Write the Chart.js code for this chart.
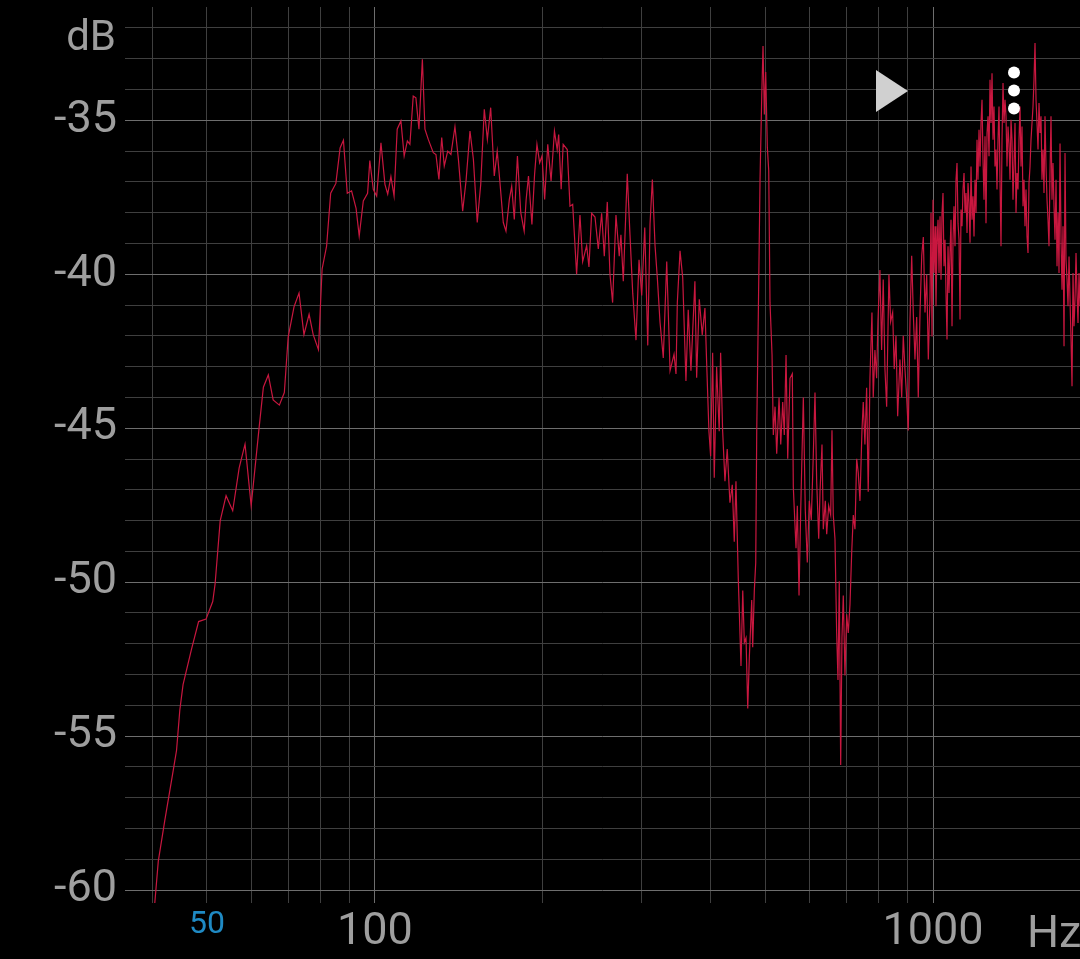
<!DOCTYPE html>
<html>
<head>
<meta charset="utf-8">
<script src="https://cdn.jsdelivr.net/npm/chart.js@4/dist/chart.umd.min.js"></script>
<style>
  html, body { margin: 0; padding: 0; background: #000; }
  #wrap { width: 1080px; height: 959px; position: relative; }
</style>
</head>
<body>
<div id="wrap"><canvas id="spectrum"></canvas></div>
<script>
// spectrum: frequency (Hz) and level (dB)
const freqHz = [
  40.3, 40.9, 42.0, 43.5, 44.1, 44.7, 45.3, 46.9, 48.3, 49.8,
  51.2, 51.7, 52.8, 54.1, 55.6, 57.1, 58.5, 60.0, 62.0, 63.1,
  64.4, 65.7, 67.4, 68.8, 69.9, 71.6, 73.1, 74.6, 76.2, 77.5,
  79.2, 80.4, 81.9, 83.3, 85.1, 86.6, 87.8, 89.2, 90.8, 92.5,
  93.7, 95.3, 97.0, 97.9,
  99.3, 100.7, 102.5, 104.2, 105.4, 106.8, 108.2, 109.6, 111.3, 112.8,
  114.3, 115.5, 117.1, 118.4, 119.9, 121.6, 122.9, 124.6, 127.2, 128.6,
  130.2, 131.7, 133.1, 135.0, 136.8, 139.1, 141.1, 143.6, 145.6, 148.0,
  150.1, 152.5, 154.7, 157.0, 159.0, 161.2, 163.6, 165.6, 167.5, 169.8,
  171.7, 174.1, 175.8, 177.7, 180.0, 182.5, 185.1, 186.6, 188.4, 191.1,
  193.2, 195.1, 197.3, 199.2, 201.4, 204.0, 206.8, 209.7, 212.1, 213.4,
  215.6, 217.4, 221.1,
  223.6, 226.1, 229.8, 233.0, 235.6, 239.5, 241.8, 244.5, 247.9, 251.3,
  254.8, 257.6, 260.8, 263.7, 266.6, 270.3, 274.0, 275.9, 278.6, 283.2,
  286.4, 289.7, 293.6, 297.3, 300.6, 304.4, 308.2, 311.1, 314.1, 317.6,
  320.6, 324.2, 328.6, 333.3, 337.9, 343.5, 346.3, 348.2, 352.1, 356.0,
  360.8, 364.2, 368.3, 374.4, 377.1, 381.2, 385.9, 390.2, 393.0, 396.7,
  399.5, 402.8, 405.5, 409.5, 413.9, 416.3, 419.8, 423.8, 427.8, 432.6,
  436.8, 440.4, 443.5, 447.7,
  452.8, 456.1, 459.1, 462.3, 465.6, 468.7, 473.3, 475.2, 478.4, 481.2,
  483.2, 486.4, 489.8, 493.3, 495.9, 498.6, 501.4, 504.8, 507.7, 510.4,
  514.7, 517.4, 521.1, 524.7, 529.8, 533.5, 537.9, 541.4, 545.3, 549.1,
  554.3, 559.6, 561.9, 568.2, 571.3, 575.3, 579.3, 585.6, 590.4, 595.3,
  600.2, 605.2, 610.3, 614.5, 618.8, 624.0, 627.4, 632.5, 635.9, 641.2,
  644.9, 650.2, 655.6, 659.1, 662.6, 667.3, 672.0, 675.6, 679.2, 683.2,
  686.8, 690.6, 695.4, 700.3, 704.9, 709.9, 714.9, 719.7, 724.7, 729.8,
  734.6, 739.8, 745.9, 749.9, 755.1, 760.4, 765.4, 770.9, 777.3, 781.4,
  786.9, 792.4, 796.7, 803.3, 808.9, 814.3, 820.1, 825.9, 833.7, 839.6,
  846.6, 852.1, 858.3, 864.3, 872.5, 878.8, 884.5, 890.7, 897.0, 903.0,
  909.3, 915.8, 921.8, 928.3, 934.8, 941.0, 947.8, 954.5, 960.8, 967.5,
  974.3, 980.8,
  987.7, 991.8, 995.9, 1000.0, 1004.1, 1008.3, 1012.4, 1016.6, 1020.9, 1025.1,
  1029.3, 1033.6, 1037.9, 1042.1, 1046.4, 1050.8, 1055.1, 1059.5, 1063.9, 1068.3,
  1072.7, 1077.1, 1081.6, 1086.0, 1090.5, 1095.0, 1099.6, 1104.1, 1108.7, 1113.3,
  1117.9, 1122.5, 1127.2, 1131.8, 1136.5, 1141.2, 1145.9, 1150.7, 1155.4, 1160.2,
  1165.0, 1169.8, 1174.7, 1179.4, 1184.3, 1189.2, 1194.1, 1199.1, 1204.0, 1209.0,
  1214.0, 1219.0, 1224.1, 1229.1, 1234.2, 1239.3, 1244.4, 1249.6, 1254.8, 1260.0,
  1265.2, 1270.4, 1275.7, 1280.9, 1286.2, 1291.5, 1296.9, 1302.2, 1307.6, 1313.0,
  1318.4, 1323.9, 1329.4, 1334.9, 1340.4, 1345.9, 1351.5, 1357.1, 1362.7, 1368.3,
  1374.0, 1379.7, 1385.4, 1391.1, 1396.9, 1402.6, 1408.4, 1414.2, 1420.1, 1426.0,
  1431.9, 1437.8, 1443.7, 1449.7, 1455.7, 1461.7, 1467.7, 1473.8, 1479.9, 1486.0,
  1492.2, 1498.3, 1504.5, 1510.8, 1517.0, 1523.3, 1529.6, 1535.9, 1542.3, 1548.6,
  1555.0, 1561.5, 1567.9, 1574.4, 1580.9, 1587.4, 1594.0, 1600.6, 1607.2, 1613.9,
  1620.5, 1627.2, 1634.0, 1640.8, 1647.5, 1654.4, 1661.2, 1668.1, 1675.0, 1681.9,
  1688.9, 1695.9, 1702.9, 1709.9, 1717.0, 1724.1, 1731.2, 1738.4, 1745.5, 1752.8,
  1760.0, 1767.3, 1774.6, 1781.9, 1789.3, 1796.7, 1804.1, 1811.6, 1819.0, 1826.6,
  1834.1
];

const levelDb = [
  -60.45, -59.06, -57.75, -56.11, -55.46, -54.15, -53.33, -52.18, -51.28, -51.2,
  -50.63, -50.06, -48.01, -47.19, -47.68, -46.29, -45.52, -47.52, -44.98, -43.67,
  -43.27, -44.08, -44.25, -43.84, -42.04, -41.06, -40.61, -41.96, -41.3, -41.96,
  -42.45, -39.83, -39.09, -37.37, -37.05, -35.9, -35.65, -37.37, -37.29, -37.86,
  -38.76, -37.62, -37.37, -36.31,
  -37.24, -37.46, -35.73, -37.08, -37.4, -36.83, -37.46, -35.29, -35.02, -36.16,
  -35.67, -35.78, -34.21, -34.27, -35.29, -33.02, -35.29, -35.62, -36.05, -36.11,
  -36.92, -35.56, -36.48, -36.0, -36.11, -35.21, -36.27, -37.95, -36.97, -35.35,
  -36.27, -38.32, -37.08, -34.64, -35.62, -34.59, -36.81, -36.0, -37.03, -38.32,
  -38.6, -37.57, -37.14, -38.22, -36.16, -38.0, -38.6, -37.57, -36.81, -38.38,
  -36.76, -35.78, -36.38, -36.16, -37.57, -35.78, -36.97, -35.35, -35.95, -35.46,
  -37.24, -35.78, -35.95,
  -37.79, -37.73, -40.0, -38.08, -39.59, -39.07, -39.76, -38.02, -38.14, -39.18,
  -38.02, -39.41, -37.65, -40.0, -40.92, -38.08, -39.41, -38.72, -40.23, -36.74,
  -38.72, -40.63, -42.14, -39.53, -40.69, -38.48, -42.31, -38.37, -36.92, -39.07,
  -40.11, -41.56, -42.72, -39.59, -43.13, -42.6, -43.24, -40.92, -39.24, -40.11,
  -43.47, -41.15, -43.13, -40.23, -43.36, -40.81, -41.97, -41.1, -42.89, -45.1,
  -45.91, -42.55, -46.61, -43.01, -45.1, -42.55, -45.1, -46.72, -45.68, -47.42,
  -46.84, -48.69, -46.72, -49.85,
  -52.72, -50.27, -51.96, -51.81, -54.1, -52.42, -50.58, -52.11, -50.27, -49.36,
  -45.07, -41.24, -36.95, -34.19, -32.59, -34.81, -33.43, -35.88, -36.64, -40.93,
  -42.62, -45.22, -44.3, -45.83, -44.0, -45.53, -44.15, -45.22, -42.62, -45.99,
  -43.38, -43.23, -46.91, -48.9, -47.52, -50.43, -47.67, -44.0, -47.67, -49.36,
  -47.36, -47.98, -45.83, -43.84, -46.75, -48.59, -47.06, -45.53, -48.28, -47.36,
  -48.44, -47.52, -47.82, -45.07, -47.82, -48.59, -51.65, -53.18, -49.97, -55.94,
  -51.81, -50.43, -53.03, -51.04, -51.65, -50.73, -49.05, -47.82, -48.28, -45.99,
  -46.45, -47.36, -45.07, -44.15, -45.53, -43.69, -47.06, -43.38, -41.24, -44.0,
  -42.46, -43.38, -41.54, -39.86, -42.46, -40.17, -43.08, -44.3, -40.01, -41.54,
  -41.24, -43.08, -42.0, -44.61, -42.77, -44.0, -42.0, -43.08, -44.0, -45.07,
  -41.54, -39.4, -41.24, -42.77, -41.39, -44.0, -41.24, -39.4, -38.79, -41.24,
  -40.01, -42.77,
  -40.72, -38.01, -42.02, -37.58, -39.96, -38.44, -41.04, -39.09, -38.23, -39.96,
  -38.12, -40.18, -38.01, -37.36, -39.74, -38.88, -40.61, -42.12, -39.09, -40.61,
  -39.31, -38.23, -41.69, -38.88, -37.79, -39.09, -36.93, -36.39, -38.34, -38.88,
  -41.47, -37.9, -38.44, -37.25, -36.71, -38.01, -37.36, -38.66, -37.04, -37.69,
  -38.98, -36.5, -38.23, -37.47, -38.77, -36.93, -38.01, -35.63, -36.93, -35.31,
  -36.5, -35.09, -34.33, -36.28, -37.58, -35.52, -38.34, -35.41, -34.87, -36.17,
  -33.68, -35.09, -33.47, -35.63, -34.55, -36.5, -35.95, -37.25, -35.63, -34.55,
  -36.93, -39.09, -35.63, -33.79, -35.09, -34.33, -34.87, -36.5, -35.2, -35.75,
  -36.93, -34.98, -35.63, -37.58, -36.39, -35.09, -38.01, -36.71, -37.25, -35.63,
  -34.55, -36.5, -35.2, -37.79, -36.93, -38.44, -37.25, -38.77, -39.31, -37.04,
  -36.5, -35.63, -35.09, -34.55, -33.68, -32.49, -34.33, -35.09, -35.95, -34.44,
  -35.41, -34.87, -36.93, -35.95, -37.36, -34.87, -36.5, -37.58, -38.23, -39.09,
  -36.71, -34.87, -37.58, -36.39, -37.79, -38.88, -36.93, -39.74, -38.01, -39.96,
  -35.75, -38.88, -40.5, -38.44, -42.34, -36.06, -39.53, -40.18, -41.04, -39.42,
  -40.82, -42.12, -43.64, -39.96, -41.69, -40.82, -39.31, -40.61, -41.58, -39.96,
  -41.04
];

// axes
const xRange = [35.65, 1834];
const yRange = [-60.42, -31.32];
const xGridHz = [40, 50, 60, 70, 80, 90, 100, 200, 300, 400, 500, 600, 700, 800, 900, 1000];
const xMajorHz = [100, 1000];
const xLabelHz = [50, 100, 1000];
const yGridDb = [-60, -59, -58, -57, -56, -55, -54, -53, -52, -51, -50, -49, -48, -47,
  -46, -45, -44, -43, -42, -41, -40, -39, -38, -37, -36, -35, -34, -33, -32];
const yLabelDb = [-60, -55, -50, -45, -40, -35];

const LABEL_GRAY = "#9e9e9e";
const GRID_MAJOR = "#6e6e6e";
const GRID_MINOR = "#3f3f3f";

// overlay bits of the app screen: unit captions, play button, menu dots
const overlay = {
    id: "overlay",
    afterDraw(chart) {
        const c = chart.ctx;
        c.save();
        c.fillStyle = LABEL_GRAY;
        c.textBaseline = "alphabetic";
        c.font = "42px Roboto";
        c.textAlign = "right";
        c.fillText("dB", 116, 50);
        c.font = "45px Roboto";
        c.textAlign = "left";
        c.fillText("Hz", 1027, 947);

        c.fillStyle = "#d0d0d0";
        c.beginPath();
        c.moveTo(876, 70);
        c.lineTo(908, 91);
        c.lineTo(876, 112);
        c.closePath();
        c.fill();

        c.fillStyle = "#ffffff";
        [72.5, 90.5, 108.5].forEach((y) => {
            c.beginPath();
            c.arc(1014, y, 6, 0, Math.PI * 2);
            c.fill();
        });
        c.restore();
    },
};

const noEdgePadding = (s) => {
    s.paddingTop = 0;
    s.paddingBottom = 0;
    s.paddingLeft = 0;
    s.paddingRight = 0;
};

new Chart(document.getElementById("spectrum"), {
    type: "line",
    data: {
        datasets: [
            {
                data: freqHz.map((f, i) => ({ x: f, y: levelDb[i] })),
                borderColor: "#c8173f",
                borderWidth: 1.2,
                pointRadius: 0,
                tension: 0,
                fill: false,
            },
        ],
    },
    options: {
        animation: false,
        responsive: true,
        maintainAspectRatio: false,
        devicePixelRatio: 1,
        layout: { padding: { top: 7, right: 0, bottom: 0, left: 0 } },
        plugins: { legend: { display: false }, tooltip: { enabled: false } },
        scales: {
            x: {
                type: "logarithmic",
                min: xRange[0],
                max: xRange[1],
                afterBuildTicks: (s) => { s.ticks = xGridHz.map((v) => ({ value: v })); },
                afterFit: (s) => { s.height = 56; noEdgePadding(s); },
                border: { display: false },
                grid: {
                    drawTicks: false,
                    lineWidth: 1,
                    color: (ctx) => (ctx.tick && xMajorHz.includes(ctx.tick.value) ? GRID_MAJOR : GRID_MINOR),
                },
                ticks: {
                    autoSkip: false,
                    maxRotation: 0,
                    minRotation: 0,
                    padding: 3,
                    callback: (v) => (xLabelHz.includes(v) ? String(v) : ""),
                    color: (ctx) => (ctx.tick && ctx.tick.value === 50 ? "#1f8ac4" : LABEL_GRAY),
                    font: (ctx) => ({ family: "Roboto", size: ctx.tick && ctx.tick.value === 50 ? 32 : 45 }),
                },
            },
            y: {
                min: yRange[0],
                max: yRange[1],
                afterBuildTicks: (s) => { s.ticks = yGridDb.map((v) => ({ value: v })); },
                afterFit: (s) => { s.width = 125; noEdgePadding(s); },
                border: { display: false },
                grid: {
                    drawTicks: false,
                    lineWidth: 1,
                    color: (ctx) => (ctx.tick && yLabelDb.includes(ctx.tick.value) ? GRID_MAJOR : GRID_MINOR),
                },
                ticks: {
                    autoSkip: false,
                    padding: 8,
                    callback: (v) => (yLabelDb.includes(v) ? String(v) : ""),
                    color: LABEL_GRAY,
                    font: { family: "Roboto", size: 45 },
                },
            },
        },
    },
    plugins: [overlay],
});
</script>
</body>
</html>
